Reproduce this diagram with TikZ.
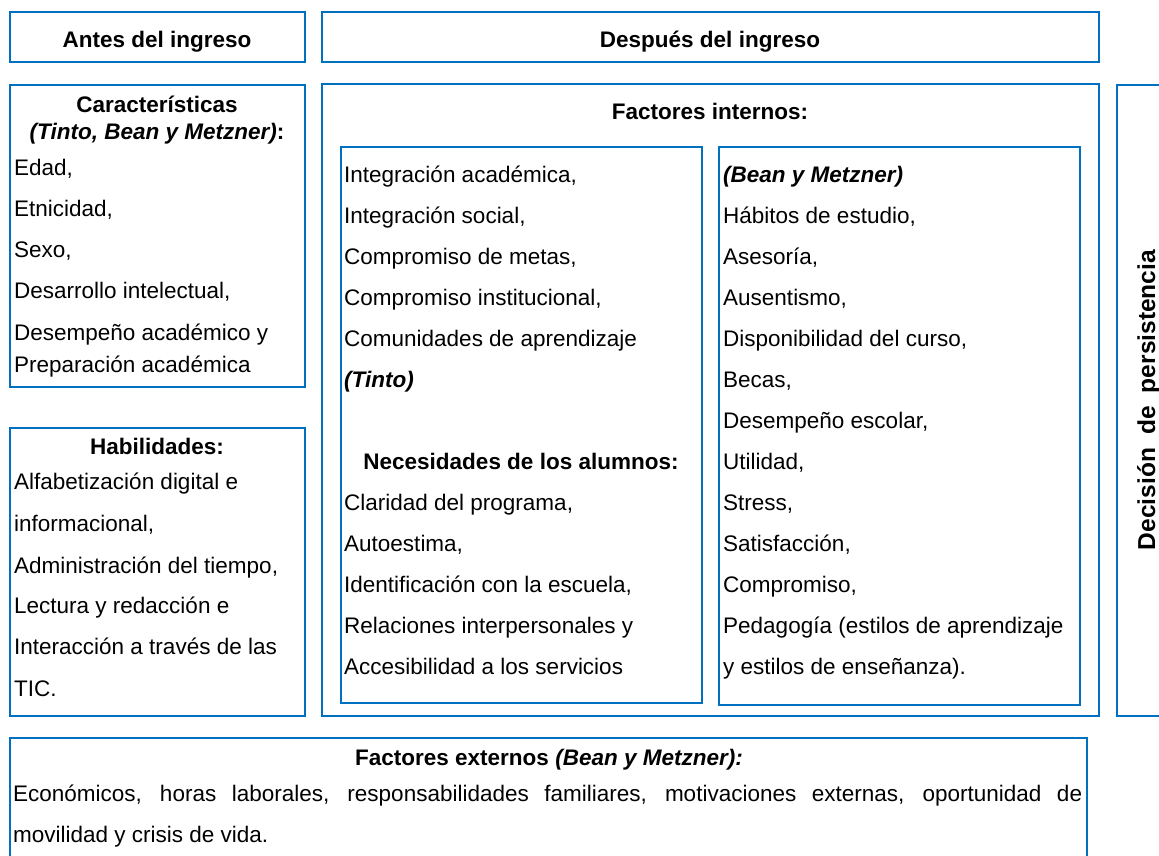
\documentclass[tikz,border=0pt]{standalone}
\usepackage{fontspec}
\setmainfont{Liberation Sans}
\usepackage{xcolor}

\begin{document}
\begin{tikzpicture}[x=1pt, y=-1pt,
    box/.style={draw=frame, line width=1.5pt},
    txt/.style={anchor=base west, inner sep=0pt, font=\fontsize{22.5}{27}\selectfont},
    ttl/.style={anchor=base, inner sep=0pt, font=\fontsize{22.5}{27}\selectfont\bfseries}]
    % Define colors
    \definecolor{frame}{RGB}{0,112,192}
    \clip (0,0) rectangle (1159,855);

    % Headers
    \draw[box] (10,12) rectangle (305,62);
    \node[ttl] (antes) at (157,47) {Antes del ingreso};
    \draw[box] (322,12) rectangle (1099,62);
    \node[ttl] (despues) at (710,47) {Después del ingreso};

    % Caracteristicas
    \draw[box] (10,85) rectangle (305,387);
    \node[ttl] (car) at (157,112) {Características};
    \node[ttl] (carref) at (157,139) {\textit{(Tinto, Bean y Metzner)}:};
    \foreach \y/\t [count=\i] in {175/{Edad,}, 216/{Etnicidad,}, 257/{Sexo,},
        298/{Desarrollo intelectual,}, 340/{Desempeño académico y},
        372/{Preparación académica}} {
        \node[txt] (car\i) at (14,\y) {\t};
    }

    % Habilidades
    \draw[box] (10,428) rectangle (305,716);
    \node[ttl] (hab) at (157,454) {Habilidades:};
    \foreach \y/\t [count=\i] in {489/{Alfabetización digital e}, 531/{informacional,},
        573/{Administración del tiempo,}, 613/{Lectura y redacción e},
        654/{Interacción a través de las}, 696/{TIC.}} {
        \node[txt] (hab\i) at (14,\y) {\t};
    }

    % Factores internos
    \draw[box] (322,84) rectangle (1099,716);
    \node[ttl] (internos) at (710,119) {Factores internos:};

    % Tinto + necesidades
    \draw[box] (341,147) rectangle (702,703);
    \foreach \y/\t [count=\i] in {182/{Integración académica,}, 223/{Integración social,},
        264/{Compromiso de metas,}, 305/{Compromiso institucional,},
        346/{Comunidades de aprendizaje}, 387/{\textbf{\textit{(Tinto)}}},
        510/{Claridad del programa,}, 551/{Autoestima,},
        592/{Identificación con la escuela,}, 633/{Relaciones interpersonales y},
        674/{Accesibilidad a los servicios}} {
        \node[txt] (tin\i) at (344,\y) {\t};
    }
    \node[ttl] (nec) at (521,469) {Necesidades de los alumnos:};

    % Bean y Metzner
    \draw[box] (719,147) rectangle (1080,705);
    \foreach \y/\t [count=\i] in {182/{\textbf{\textit{(Bean y Metzner)}}},
        223/{Hábitos de estudio,}, 264/{Asesoría,}, 305/{Ausentismo,},
        346/{Disponibilidad del curso,}, 387/{Becas,}, 428/{Desempeño escolar,},
        469/{Utilidad,}, 510/{Stress,}, 551/{Satisfacción,}, 592/{Compromiso,},
        633/{Pedagogía (estilos de aprendizaje}, 674/{y estilos de enseñanza).}} {
        \node[txt] (bm\i) at (723,\y) {\t};
    }

    % Decision
    \draw[box] (1117,85) rectangle (1175,716);
    \node[ttl, rotate=90, font=\fontsize{24.5}{27}\selectfont\bfseries] (decision) at (1155,400)
        {\makebox[300pt][s]{Decisión de persistencia}};

    % Factores externos
    \draw[box] (10,738) rectangle (1087,880);
    \node[ttl] (externos) at (549,765) {Factores externos \textit{(Bean y Metzner):}};
    \node[txt] (ext1) at (13,801) {\makebox[1069pt][s]{Económicos, horas laborales,
        responsabilidades familiares, motivaciones externas, oportunidad de}};
    \node[txt] (ext2) at (13,842) {movilidad y crisis de vida.};
\end{tikzpicture}
\end{document}
